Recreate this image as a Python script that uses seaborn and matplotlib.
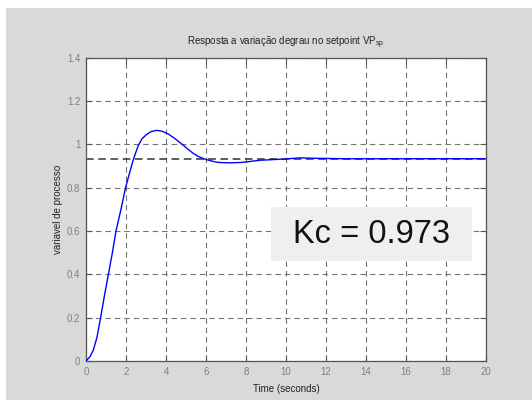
import matplotlib
matplotlib.use("Agg")
import matplotlib.pyplot as plt
import matplotlib.ticker as mticker
from matplotlib.patches import Rectangle
import pandas as pd
import seaborn as sns

# Closed-loop response of the process variable to a setpoint step
time_s = [0, 0.2, 0.37, 0.55, 0.73, 0.92, 1.12, 1.3, 1.5, 1.75, 1.98, 2.2, 2.37,
          2.5, 2.62, 2.8, 3.03, 3.25, 3.53, 3.8, 4.12, 4.5, 4.87, 5.1, 5.37, 5.65,
          5.95, 6.3, 6.6, 7.2, 7.8, 8.7, 10.0, 10.7, 11.5, 13.0, 15.0, 20.0]
process_var = [0, 0.02, 0.051, 0.11, 0.2, 0.3, 0.4, 0.49, 0.6, 0.7, 0.8, 0.875, 0.93,
               0.965, 0.995, 1.025, 1.045, 1.058, 1.064, 1.06, 1.047, 1.022, 0.995,
               0.977, 0.957, 0.942, 0.931, 0.922, 0.916, 0.914, 0.916, 0.926, 0.932,
               0.937, 0.935, 0.933, 0.933, 0.933]
steady_state = 0.933
gain_label = "Kc = 0.973"
x_ticks = [0, 2, 4, 6, 8, 10, 12, 14, 16, 18, 20]
y_ticks = [0, 0.2, 0.4, 0.6, 0.8, 1.0, 1.2, 1.4]

df = pd.DataFrame({"t": time_s, "vp": process_var})

sns.set_theme(style="white")
plt.rcParams["font.family"] = ["Liberation Sans", "DejaVu Sans"]
plt.rcParams["mathtext.fontset"] = "custom"
plt.rcParams["mathtext.rm"] = "Liberation Sans"
plt.rcParams["mathtext.it"] = "Liberation Sans"

fig = plt.figure(figsize=(5.32, 4.0), dpi=100)
fig.patch.set_facecolor("white")
fig.patches.append(Rectangle((6 / 532, 0), 1 - 6 / 532, 392 / 400,
                             transform=fig.transFigure, facecolor="#d9d9d9",
                             edgecolor="none", zorder=-10))

ax = fig.add_axes([86 / 532, 39 / 400, 400 / 532, 303.5 / 400])
ax.set_facecolor("white")

sns.lineplot(data=df, x="t", y="vp", ax=ax, color="#0000ff", linewidth=1.0,
             estimator=None, sort=False, zorder=3)
ax.axhline(steady_state, color="#333333", linestyle=(0, (5, 3)), linewidth=1.1, zorder=2)

ax.set_xlim(0, 20)
ax.set_ylim(0, 1.4)
ax.set_xticks(x_ticks)
ax.set_yticks(y_ticks)
ax.yaxis.set_major_formatter(mticker.FormatStrFormatter("%g"))
ax.xaxis.set_major_formatter(mticker.FormatStrFormatter("%g"))

ax.grid(True, color="#747474", linestyle=(0, (5, 3.5)), linewidth=0.8)
ax.set_axisbelow(True)

ax.tick_params(axis="both", which="major", direction="in", length=4, width=0.8,
               colors="#555555", labelcolor="#808080", labelsize=7,
               top=True, right=True, bottom=True, left=True, pad=4)
for side in ax.spines.values():
    side.set_color("#555555")
    side.set_linewidth(0.9)

ax.set_xlabel("Time (seconds)", fontsize=7, color="#222222", labelpad=5)
ax.set_ylabel("variavel de processo", fontsize=7, color="#222222", labelpad=3)
ax.set_title("Resposta a variação degrau no setpoint VP$_{\\mathrm{sp}}$",
             fontsize=7, color="#222222", pad=9)

# Annotation panel with the controller gain
ax.add_patch(Rectangle((9.25, 0.462), 10.05, 0.249, facecolor="#efefef",
                       edgecolor="none", zorder=4))
ax.text(14.27, 0.583, gain_label, fontsize=23.5, color="#111111",
        ha="center", va="center", zorder=5)

fig.savefig("out.png", dpi=100, facecolor=fig.get_facecolor())
